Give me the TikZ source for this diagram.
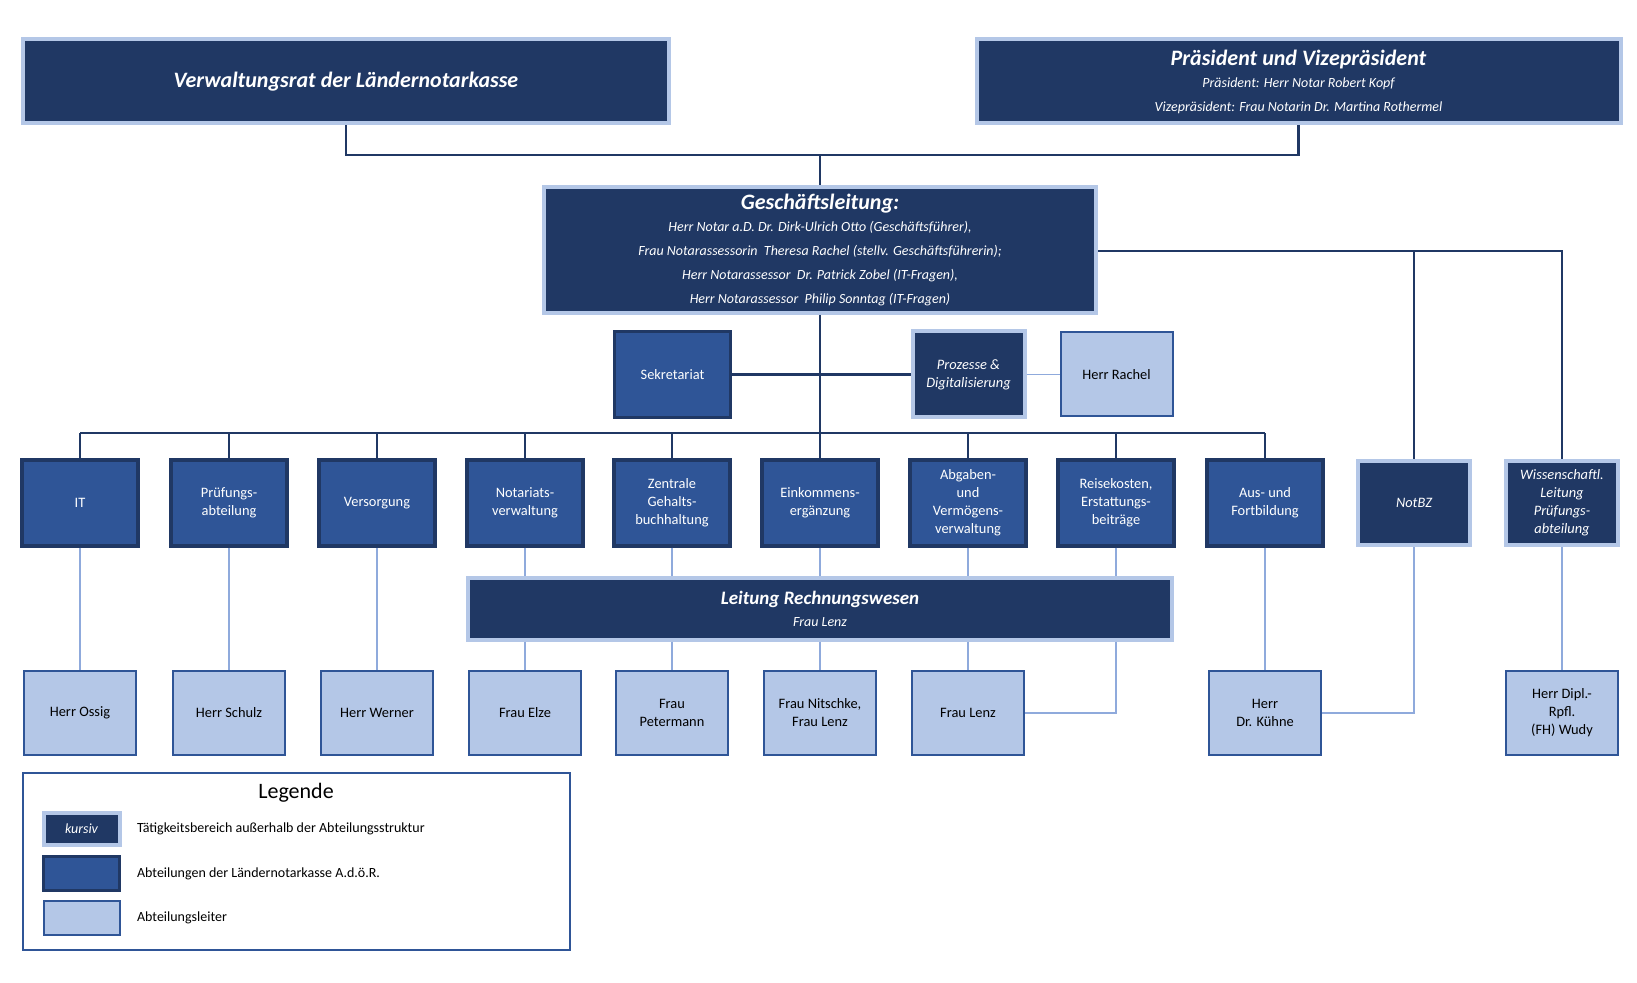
\documentclass[tikz,border=0pt]{standalone}
\usepackage{fontspec}
\setmainfont{Carlito}
\begin{document}
\begin{tikzpicture}[x=0.5pt,y=-0.5pt,
 kbox/.style={draw=lb,line width=2pt,fill=nv,text=white,align=center,inner sep=0pt},
 dept/.style={draw=nv,line width=1.6pt,fill=md,text=white,align=center,font=\fontsize{7.2}{9}\selectfont,minimum width=58pt,minimum height=43pt,inner sep=0pt},
 lead/.style={draw=md,line width=1pt,fill=lb,text=black,align=center,font=\fontsize{7.2}{9}\selectfont,minimum width=56pt,minimum height=42pt,inner sep=0pt},
 dk/.style={draw=nv,line width=1.4pt},
 lt/.style={draw=lb2,line width=0.9pt}]
\definecolor{nv}{HTML}{203864}
\definecolor{md}{HTML}{2F5597}
\definecolor{lb}{HTML}{B4C7E7}
\definecolor{lb2}{HTML}{8FAADC}
\useasboundingbox (0,0) rectangle (1637,983);
% top
\node[kbox,minimum width=323pt,minimum height=42pt,font=\fontsize{11}{13}\selectfont\bfseries\itshape] (vr) at (346,81.5) {Verwaltungsrat der Ländernotarkasse};
\node[kbox,minimum width=322pt,minimum height=42pt] (pr) at (1298.5,81.5) {{\fontsize{11}{13}\selectfont\bfseries\itshape Präsident und Vizepräsident}\\[-1pt]{\fontsize{7}{9}\selectfont\itshape Präsident: Herr Notar Robert Kopf}\\{\fontsize{7}{9}\selectfont\itshape Vizepräsident: Frau Notarin Dr. Martina Rothermel}};
\node[kbox,minimum width=276pt,minimum height=63pt] (gl) at (820,250) {{\fontsize{11}{13}\selectfont\bfseries\itshape Geschäftsleitung:}\\[-1pt]\fontsize{7}{9.4}\selectfont\itshape Herr Notar a.D. Dr. Dirk-Ulrich Otto (Geschäftsführer),\\\fontsize{7}{9.4}\selectfont\itshape Frau Notarassessorin\ \ Theresa Rachel (stellv. Geschäftsführerin);\\\fontsize{7}{9.4}\selectfont\itshape Herr Notarassessor\ \ Dr. Patrick Zobel (IT-Fragen),\\\fontsize{7}{9.4}\selectfont\itshape Herr Notarassessor\ \ Philip Sonntag (IT-Fragen)};
\coordinate (j) at (820,155);
\draw[dk] (vr.south) |- (j) -| (pr.south);
\draw[dk] (j) -- (gl.north);
% second row
\node[dept] (sek) at (672.5,374.5) {Sekretariat};
\node[kbox,minimum width=56pt,minimum height=43pt,font=\fontsize{7.2}{9}\selectfont\itshape] (pd) at (968.5,374.5) {Prozesse \&\\Digitalisierung};
\node[lead] (ra) at (1116.5,374.5) {Herr Rachel};
\draw[dk] (sek.east) -- (pd.west);
\draw[lt] (pd.east) -- (ra.west);
% departments
\coordinate (bus) at (820,433);
\foreach \n/\x/\t in {it/80/IT, pa/229/{Prüfungs-\\abteilung}, ve/377/Versorgung, nw/525/{Notariats-\\verwaltung}, zg/672/{Zentrale\\Gehalts-\\buchhaltung}, ei/820/{Einkommens-\\ergänzung}, ab/968/{Abgaben-\\und\\Vermögens-\\verwaltung}, rk/1116/{Reisekosten,\\Erstattungs-\\beiträge}, af/1265/{Aus- und\\Fortbildung}}
 {\node[dept] (\n) at (\x,503) {\t};
  \draw[dk] (\n.north) -- (\x,433);}
\draw[dk] (it.north |- bus) -- (af.north |- bus);
\draw[dk] (gl.south) -- (bus);
\node[kbox,minimum width=56pt,minimum height=42pt,font=\fontsize{7.2}{9}\selectfont\itshape] (nb) at (1414,503) {NotBZ};
\node[kbox,minimum width=56pt,minimum height=42pt,font=\fontsize{7.2}{9}\selectfont\itshape] (wl) at (1562,503) {Wissenschaftl.\\Leitung\\Prüfungs-\\abteilung};
\coordinate (gr) at (1562,251);
\draw[dk] (gl.east |- gr) -- (gr) -- (wl.north);
\draw[dk] (nb.north |- gr) -- (nb.north);
% Leitung RW
\node[kbox,minimum width=352pt,minimum height=31pt] (lr) at (820,608.5) {{\fontsize{9.5}{11}\selectfont\bfseries\itshape Leitung Rechnungswesen}\\[-1pt]{\fontsize{7}{9}\selectfont\itshape Frau Lenz}};
% leaders
\foreach \n/\x/\t in {l1/80/Herr Ossig, l2/229/Herr Schulz, l3/377/Herr Werner, l4/525/Frau Elze, l5/672/{Frau\\Petermann}, l6/820/{Frau Nitschke,\\Frau Lenz}, l7/968/Frau Lenz, l8/1265/{Herr\\Dr. Kühne}, l9/1562/{Herr Dipl.-\\Rpfl.\\(FH) Wudy}}
 {\node[lead] (\n) at (\x,712.5) {\t};}
\draw[lt] (it.south) -- (l1.north);
\draw[lt] (pa.south) -- (l2.north);
\draw[lt] (ve.south) -- (l3.north);
\foreach \a/\b in {nw/l4, zg/l5, ei/l6, ab/l7}
 {\draw[lt] (\a.south) -- (\a.south |- lr.north);
  \draw[lt] (\a.south |- lr.south) -- (\b.north);}
\draw[lt] (rk.south) -- (rk.south |- lr.north);
\coordinate (c1) at (1116,713);
\draw[lt] (rk.south |- lr.south) -- (c1) -- (l7.east |- c1);
\draw[lt] (af.south) -- (l8.north);
\coordinate (c2) at (1414,713);
\draw[lt] (nb.south) -- (c2) -- (l8.east |- c2);
\draw[lt] (wl.south) -- (l9.north);
% legend
\node[draw=md,line width=0.7pt,minimum width=273.5pt,minimum height=88.5pt,inner sep=0pt] (lg) at (296.5,861.5) {};
\node[font=\fontsize{11}{13}\selectfont] (lgt) at (296,793) {Legende};
\node[kbox,minimum width=38pt,minimum height=16pt,font=\fontsize{7}{9}\selectfont\itshape] (k1) at (81.5,828.5) {kursiv};
\node[dept,minimum width=38pt,minimum height=17pt] (k2) at (81.5,873.5) {};
\node[lead,minimum width=38pt,minimum height=17pt] (k3) at (81.5,918) {};
\node[anchor=west,font=\fontsize{7}{9}\selectfont] (t1) at (130,828.5) {Tätigkeitsbereich außerhalb der Abteilungsstruktur};
\node[anchor=west,font=\fontsize{7}{9}\selectfont] (t2) at (130,873.5) {Abteilungen der Ländernotarkasse A.d.ö.R.};
\node[anchor=west,font=\fontsize{7}{9}\selectfont] (t3) at (130,918) {Abteilungsleiter};
\end{tikzpicture}
\end{document}
